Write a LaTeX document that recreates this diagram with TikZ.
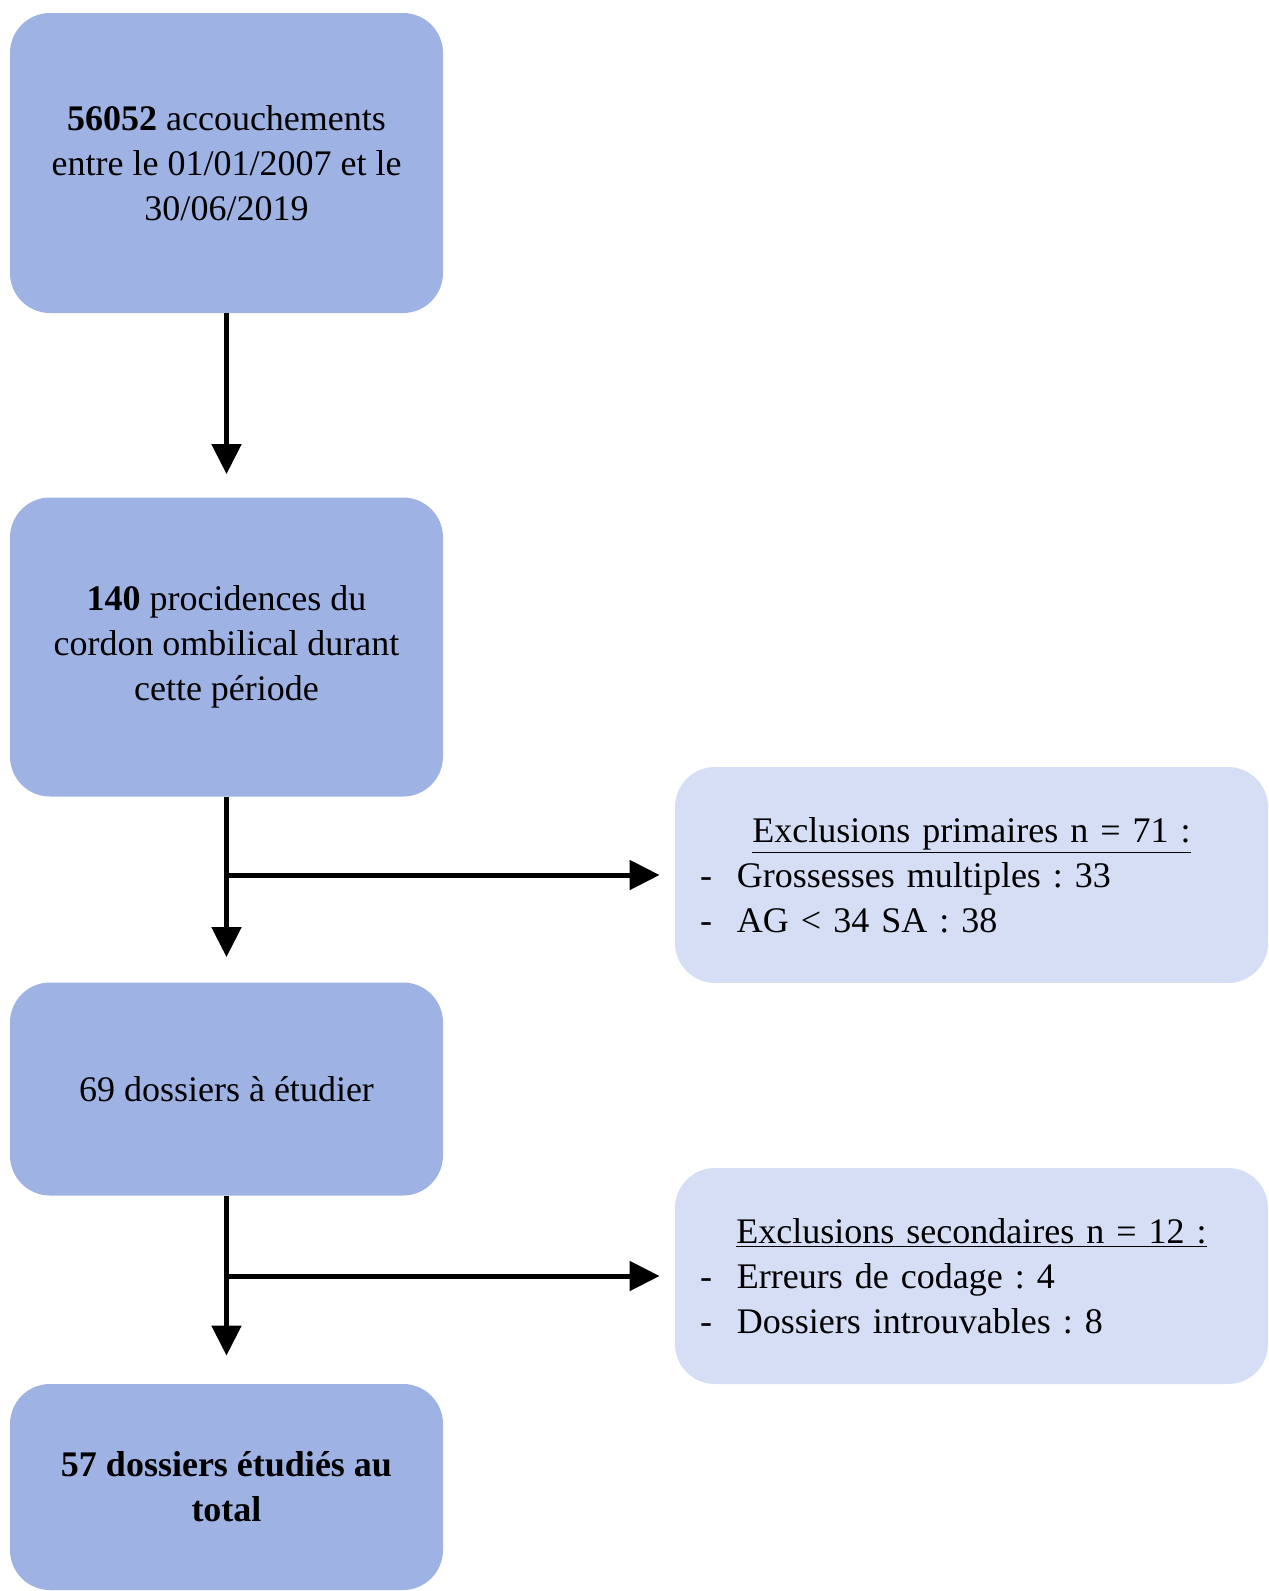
\documentclass[tikz,border=0pt]{standalone}
\usepackage{fontspec}
\setmainfont{Liberation Serif}
\usetikzlibrary{arrows.meta}
\definecolor{mainblue}{RGB}{158,178,228}
\definecolor{paleblue}{RGB}{214,222,246}

\begin{document}
\frenchspacing
\begin{tikzpicture}[x=0.5pt,y=-0.5pt,
        every node/.style={font=\fontsize{18}{22.5}\selectfont},
        stage/.style={fill=mainblue,rounded corners=20pt,minimum width=216.5pt,align=center,inner sep=0pt},
        excl/.style={fill=paleblue,rounded corners=20pt,minimum width=296.5pt,minimum height=108pt,
                     text width=271.5pt,align=left,inner sep=0pt},
        flow/.style={line width=2.5pt,-{Triangle[length=15pt,width=14.5pt]}}]
        \useasboundingbox (0,0) rectangle (1269,1591);

        \node[stage,minimum height=150pt]   (B1) at (226.5,163)                  {\textbf{56052} accouchements\\entre le 01/01/2007 et le\\30/06/2019};
        \node[stage,minimum height=149.5pt] (B2) [below of=B1,node distance=242pt] {\textbf{140} procidences du\\cordon ombilical durant\\cette période};
        \node[stage,minimum height=106.5pt] (B3) [below of=B2,node distance=221pt] {69 dossiers à étudier};
        \node[stage,minimum height=103pt]   (B4) [below of=B3,node distance=199pt] {\textbf{57 dossiers étudiés au}\\\textbf{total}};

        \node[excl] (E1) at (971.5,875)  {\makebox[271.5pt]{\underline{Exclusions primaires n = 71 :}}\\
                \makebox[18.5pt][l]{-}Grossesses multiples : 33\\
                \makebox[18.5pt][l]{-}AG < 34 SA : 38};
        \node[excl] (E2) at (971.5,1276) {\makebox[271.5pt]{\underline{Exclusions secondaires n = 12 :}}\\
                \makebox[18.5pt][l]{-}Erreurs de codage : 4\\
                \makebox[18.5pt][l]{-}Dossiers introuvables : 8};

        \coordinate (J1) at (B2.south |- E1.west);
        \coordinate (J2) at (B3.south |- E2.west);

        \draw[flow,shorten >=11.5pt] (B1) -- (B2);
        \draw[flow,shorten >=12.5pt] (B2) -- (B3);
        \draw[flow,shorten >=14pt]   (B3) -- (B4);
        \draw[flow,shorten >=7.5pt]  (J1) -- (E1.west);
        \draw[flow,shorten >=7.5pt]  (J2) -- (E2.west);
\end{tikzpicture}
\end{document}
